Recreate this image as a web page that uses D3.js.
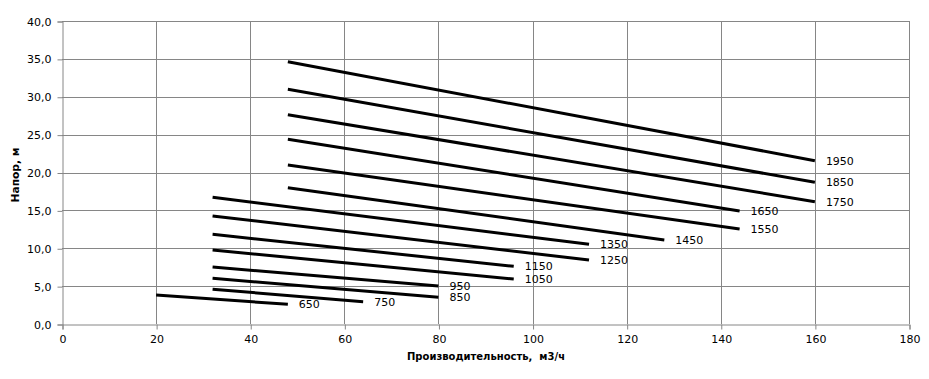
<!DOCTYPE html>
<html><head><meta charset="utf-8">
<script src="https://cdn.jsdelivr.net/npm/d3@7/dist/d3.min.js"></script>
<style>body{margin:0;background:#fff}svg{display:block}</style>
</head><body>
<svg id="c" width="929" height="379"></svg>
<script>
// Data
const seriesNames = ["650","750","850","950","1050","1150","1250","1350","1450","1550","1650","1750","1850","1950"];
const startFlow = [20, 32, 32, 32, 32, 32, 32, 32, 48, 48, 48, 48, 48, 48];
const endFlow   = [48, 64, 80, 80, 96, 96, 112, 112, 128, 144, 144, 160, 160, 160];
const startHead = [3.83, 4.58, 6.03, 7.52, 9.77, 11.84, 14.26, 16.72, 17.99, 20.99, 24.38, 27.63, 30.98, 34.63];
const endHead   = [2.60, 2.95, 3.52, 5.02, 5.94, 7.61, 8.45, 10.52, 11.09, 12.54, 14.92, 16.15, 18.70, 21.56];
const xTicks = [0,20,40,60,80,100,120,140,160,180];
const yTicks = [0,5,10,15,20,25,30,35,40];
const xTitle = "Производительность,  м3/ч";
const yTitle = "Напор, м";

const svg = d3.select("#c");
const L = 62, R = 909, T = 21, B = 324;
const x = d3.scaleLinear().domain([0,180]).range([L,R]);
const y = d3.scaleLinear().domain([0,40]).range([B,T]);
const grid = "#868686";
const font = "DejaVu Sans, Verdana, sans-serif";

// grid
svg.append("g").selectAll("line").data(yTicks.filter(d=>d>0)).join("line")
  .attr("x1",L).attr("x2",R).attr("y1",d=>Math.round(y(d))+0.5).attr("y2",d=>Math.round(y(d))+0.5)
  .attr("stroke",grid).attr("stroke-width",1);
svg.append("g").selectAll("line").data(xTicks.filter(d=>d>0)).join("line")
  .attr("y1",T).attr("y2",B).attr("x1",d=>Math.round(x(d))+0.5).attr("x2",d=>Math.round(x(d))+0.5)
  .attr("stroke",grid).attr("stroke-width",1);

// axes
const yAxis = d3.axisLeft(y).tickValues(yTicks).tickSize(5).tickPadding(6)
  .tickFormat(d=>d3.format(".1f")(d).replace(".",","));
const gy = svg.append("g").attr("transform",`translate(${L+0.5},0.5)`).call(yAxis);
const xAxis = d3.axisBottom(x).tickValues(xTicks).tickSize(5).tickPadding(6);
const gx = svg.append("g").attr("transform",`translate(0.5,${B+0.5})`).call(xAxis);
[gx,gy].forEach(g=>{
  g.select(".domain").attr("stroke",grid);
  g.selectAll(".tick line").attr("stroke",grid);
  g.selectAll("text").attr("font-family",font).attr("font-size",11).attr("fill","#000");
});

// lines
const data = seriesNames.map((n,i)=>({name:n, pts:[[startFlow[i],startHead[i]],[endFlow[i],endHead[i]]]}));
const line = d3.line().x(d=>x(d[0])).y(d=>y(d[1]));
svg.append("g").selectAll("path").data(data).join("path")
  .attr("d",d=>line(d.pts)).attr("fill","none").attr("stroke","#000").attr("stroke-width",3);

// labels
svg.append("g").selectAll("text").data(data).join("text")
  .attr("x",d=>x(d.pts[1][0])+11).attr("y",d=>y(d.pts[1][1]))
  .attr("dy","0.35em").attr("font-family",font).attr("font-size",11).text(d=>d.name);

// titles
svg.append("text").attr("x",486).attr("y",360).attr("text-anchor","middle")
  .style("white-space","pre")
  .attr("font-family",font).attr("font-weight","bold").attr("font-size",10.5)
  .attr("textLength",158).attr("lengthAdjust","spacingAndGlyphs").text(xTitle);
svg.append("text").attr("transform","translate(19,175) rotate(-90)").attr("text-anchor","middle")
  .attr("font-family",font).attr("font-weight","bold").attr("font-size",10.5)
  .attr("textLength",55).attr("lengthAdjust","spacingAndGlyphs").text(yTitle);
</script>
</body></html>
